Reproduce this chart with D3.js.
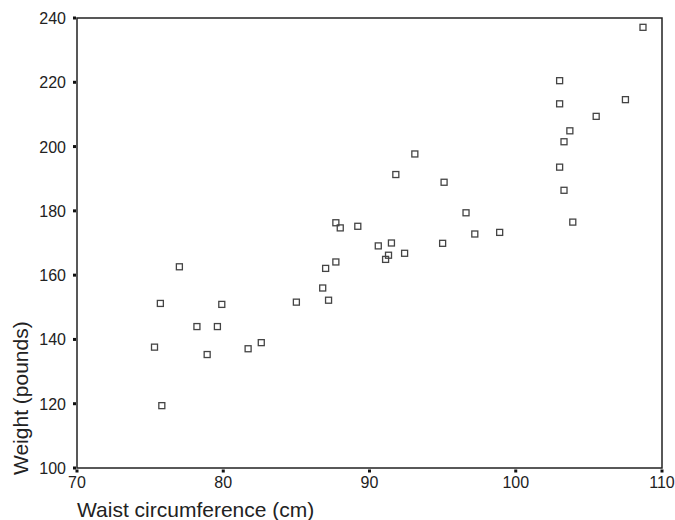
<!DOCTYPE html>
<html>
<head>
<meta charset="utf-8">
<script src="https://cdn.jsdelivr.net/npm/d3@7"></script>
<style>
  body { margin: 0; background: #fff; }
  svg { display: block; font-family: "Liberation Sans", Arial, sans-serif; }
</style>
</head>
<body>
<div id="chart"></div>
<script>
// Datos: cintura (cm) y peso (libras)
const waist = [77.0, 75.7, 79.9, 78.2, 79.6, 75.3, 78.9, 81.7, 82.6, 75.8,
               93.1, 91.8, 95.1, 96.6, 87.7, 88.0, 89.2, 97.2, 98.9, 95.0,
               90.6, 91.5, 91.3, 91.1, 92.4, 87.7, 87.0, 86.8, 87.2, 85.0,
               103.0, 103.0, 107.5, 105.5, 103.7, 103.3, 103.0, 103.3, 103.9, 108.7];
const weight = [162.6, 151.2, 150.9, 144.0, 144.0, 137.6, 135.3, 137.1, 139.0, 119.4,
                197.7, 191.3, 188.9, 179.4, 176.3, 174.7, 175.2, 172.8, 173.3, 169.9,
                169.1, 170.0, 166.2, 164.9, 166.8, 164.1, 162.1, 156.0, 152.2, 151.6,
                220.5, 213.3, 214.6, 209.4, 204.9, 201.5, 193.6, 186.4, 176.5, 237.1];
const xTicks = [70, 80, 90, 100, 110];
const yTicks = [100, 120, 140, 160, 180, 200, 220, 240];

const width = 675, height = 520;
const plotL = 77, plotR = 662, plotT = 18, plotB = 468;

const x = d3.scaleLinear().domain([70, 110]).range([plotL, plotR]);
const y = d3.scaleLinear().domain([100, 240]).range([plotB, plotT]);

const svg = d3.select('#chart').append('svg')
    .attr('width', width)
    .attr('height', height);

//Marco
svg.append('rect')
    .attr('x', plotL).attr('y', plotT)
    .attr('width', plotR - plotL).attr('height', plotB - plotT)
    .attr('fill', 'none')
    .attr('stroke', '#222')
    .attr('stroke-width', 1.5);

//Ticks eje Y
svg.selectAll('.ytick')
    .data(yTicks)
    .enter()
    .append('rect')
    .attr('x', plotL - 4)
    .attr('y', d => y(d) - 1.5)
    .attr('width', 3).attr('height', 3)
    .attr('fill', '#111');

svg.selectAll('.ylabel')
    .data(yTicks)
    .enter()
    .append('text')
    .attr('x', plotL - 11)
    .attr('y', d => y(d) + 6)
    .attr('text-anchor', 'end')
    .attr('font-size', 16)
    .attr('fill', '#222')
    .text(d => d);

//Ticks eje X
svg.selectAll('.xtick')
    .data(xTicks)
    .enter()
    .append('rect')
    .attr('x', d => x(d) - 1.5)
    .attr('y', plotB + 1.5)
    .attr('width', 3).attr('height', 3)
    .attr('fill', '#111');

svg.selectAll('.xlabel')
    .data(xTicks)
    .enter()
    .append('text')
    .attr('x', d => x(d))
    .attr('y', 488)
    .attr('text-anchor', 'middle')
    .attr('font-size', 16)
    .attr('fill', '#222')
    .text(d => d);

//Títulos
svg.append('text')
    .attr('x', plotL)
    .attr('y', 517)
    .attr('font-size', 21)
    .attr('fill', '#222')
    .text('Waist circumference (cm)');

svg.append('text')
    .attr('transform', 'translate(28,475) rotate(-90)')
    .attr('font-size', 21)
    .attr('fill', '#222')
    .text('Weight (pounds)');

//Puntos
svg.selectAll('.pt')
    .data(waist)
    .enter()
    .append('rect')
    .attr('x', d => x(d) - 3)
    .attr('y', (d, i) => y(weight[i]) - 3)
    .attr('width', 6).attr('height', 6)
    .attr('fill', 'none')
    .attr('stroke', '#444')
    .attr('stroke-width', 1.3);
</script>
</body>
</html>
